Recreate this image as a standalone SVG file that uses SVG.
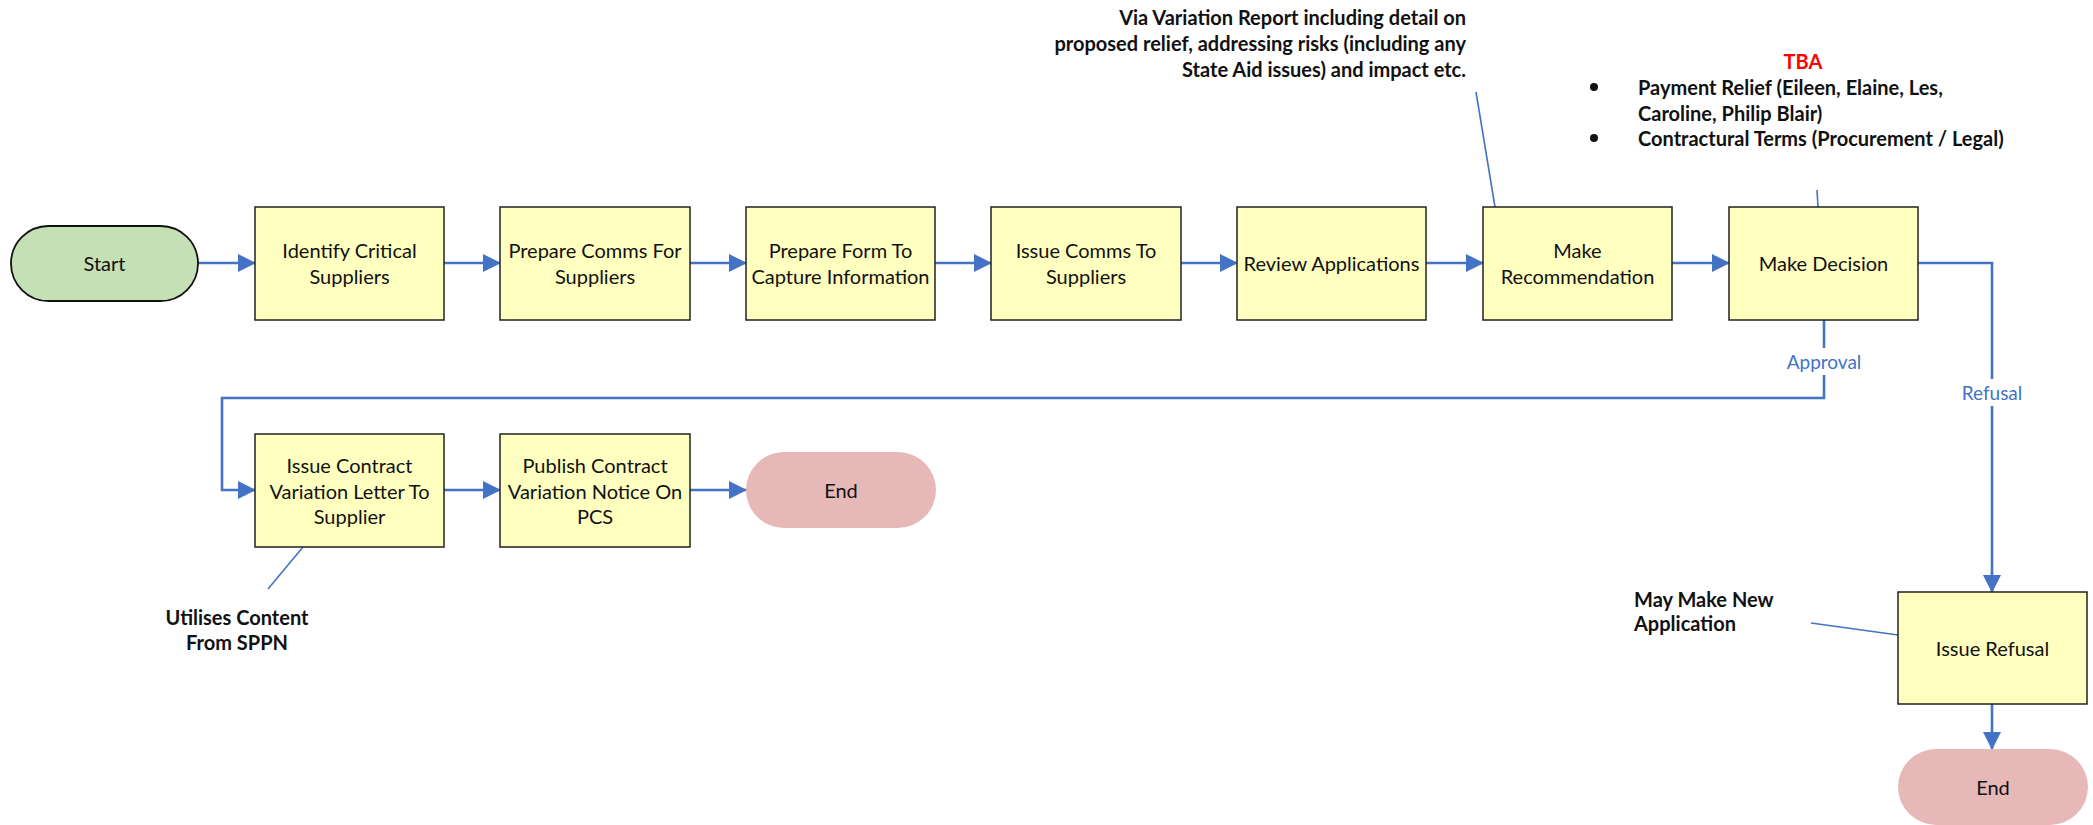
<svg xmlns="http://www.w3.org/2000/svg" width="2093" height="825" viewBox="0 0 2093 825">
<defs>
<style>
.box{fill:#FFFFBF;stroke:#222;stroke-width:1.5}
.start{fill:#C5E0B4;stroke:#111;stroke-width:1.8}
.end{fill:#E6B9B8;stroke:none}
.lbl{font-family:Lato,"Liberation Sans",sans-serif;font-size:20px;fill:#111;text-anchor:middle;dominant-baseline:central}
.conn{fill:none;stroke:#4472C4;stroke-width:2.6}
.callout{fill:none;stroke:#4472C4;stroke-width:1.6}
.clbl{font-family:Lato,"Liberation Sans",sans-serif;font-size:19px;fill:#4472C4;text-anchor:middle;dominant-baseline:central}
.note{font-family:Lato,"Liberation Sans",sans-serif;font-size:20px;font-weight:bold;fill:#111;dominant-baseline:central}
</style>
<marker id="arr" markerUnits="userSpaceOnUse" markerWidth="18" markerHeight="18" viewBox="0 0 18 18" refX="17" refY="9" orient="auto">
<path d="M0,0 L18,9 L0,18 Z" fill="#4472C4"/>
</marker>
</defs>
<rect width="2093" height="825" fill="#fff"/>

<g id="connectors">
<line class="conn" x1="198" y1="263" x2="255" y2="263" marker-end="url(#arr)"/>
<line class="conn" x1="444" y1="263" x2="500" y2="263" marker-end="url(#arr)"/>
<line class="conn" x1="690" y1="263" x2="746" y2="263" marker-end="url(#arr)"/>
<line class="conn" x1="935" y1="263" x2="991" y2="263" marker-end="url(#arr)"/>
<line class="conn" x1="1181" y1="263" x2="1237" y2="263" marker-end="url(#arr)"/>
<line class="conn" x1="1426" y1="263" x2="1483" y2="263" marker-end="url(#arr)"/>
<line class="conn" x1="1672" y1="263" x2="1729" y2="263" marker-end="url(#arr)"/>
<path class="conn" d="M1824,320 V398 H222 V490 H255" marker-end="url(#arr)"/>
<path class="conn" d="M1918,263 H1992 V592" marker-end="url(#arr)"/>
<line class="conn" x1="444" y1="490" x2="500" y2="490" marker-end="url(#arr)"/>
<line class="conn" x1="690" y1="490" x2="746" y2="490" marker-end="url(#arr)"/>
<line class="conn" x1="1992" y1="704" x2="1992" y2="749" marker-end="url(#arr)"/>
<rect x="1784" y="348" width="80" height="27" fill="#fff"/>
<text class="clbl" x="1824" y="361">Approval</text>
<rect x="1956" y="379" width="72" height="27" fill="#fff"/>
<text class="clbl" x="1992" y="392">Refusal</text>
<line class="callout" x1="1476" y1="92" x2="1495" y2="207"/>
<line class="callout" x1="1817" y1="190" x2="1818" y2="207"/>
<line class="callout" x1="303" y1="547" x2="268" y2="589"/>
<line class="callout" x1="1811" y1="623" x2="1898" y2="635"/>
</g>

<g id="start">
<rect class="start" x="11" y="226" width="187" height="75" rx="37.5"/>
<text class="lbl" x="104.5" y="263">Start</text>
</g>
<g id="identify">
<rect class="box" x="255" y="207" width="189" height="113"/>
<text class="lbl" x="349.5" y="250">Identify Critical</text>
<text class="lbl" x="349.5" y="276">Suppliers</text>
</g>
<g id="prepare-comms">
<rect class="box" x="500" y="207" width="190" height="113"/>
<text class="lbl" x="595" y="250">Prepare Comms For</text>
<text class="lbl" x="595" y="276">Suppliers</text>
</g>
<g id="prepare-form">
<rect class="box" x="746" y="207" width="189" height="113"/>
<text class="lbl" x="840.5" y="250">Prepare Form To</text>
<text class="lbl" x="840.5" y="276">Capture Information</text>
</g>
<g id="issue-comms">
<rect class="box" x="991" y="207" width="190" height="113"/>
<text class="lbl" x="1086" y="250">Issue Comms To</text>
<text class="lbl" x="1086" y="276">Suppliers</text>
</g>
<g id="review">
<rect class="box" x="1237" y="207" width="189" height="113"/>
<text class="lbl" x="1331.5" y="263">Review Applications</text>
</g>
<g id="recommend">
<rect class="box" x="1483" y="207" width="189" height="113"/>
<text class="lbl" x="1577.5" y="250">Make</text>
<text class="lbl" x="1577.5" y="276">Recommendation</text>
</g>
<g id="decision">
<rect class="box" x="1729" y="207" width="189" height="113"/>
<text class="lbl" x="1823.5" y="263">Make Decision</text>
</g>
<g id="issue-contract">
<rect class="box" x="255" y="434" width="189" height="113"/>
<text class="lbl" x="349.5" y="465">Issue Contract</text>
<text class="lbl" x="349.5" y="490.5">Variation Letter To</text>
<text class="lbl" x="349.5" y="516">Supplier</text>
</g>
<g id="publish">
<rect class="box" x="500" y="434" width="190" height="113"/>
<text class="lbl" x="595" y="465">Publish Contract</text>
<text class="lbl" x="595" y="490.5">Variation Notice On</text>
<text class="lbl" x="595" y="516">PCS</text>
</g>
<g id="end1">
<rect class="end" x="746" y="452" width="190" height="76" rx="38"/>
<text class="lbl" x="841" y="490">End</text>
</g>
<g id="issue-refusal">
<rect class="box" x="1898" y="592" width="189" height="112"/>
<text class="lbl" x="1992.5" y="648">Issue Refusal</text>
</g>
<g id="end2">
<rect class="end" x="1898" y="749" width="190" height="76" rx="38"/>
<text class="lbl" x="1993" y="787">End</text>
</g>

<g id="note-variation">
<text class="note" x="1466" y="17" text-anchor="end">Via Variation Report including detail on</text>
<text class="note" x="1466" y="43" text-anchor="end">proposed relief, addressing risks (including any</text>
<text class="note" x="1466" y="69" text-anchor="end">State Aid issues) and impact etc.</text>
</g>
<g id="note-tba">
<text class="note" x="1803" y="61" text-anchor="middle" style="fill:#FF0000">TBA</text>
<circle cx="1594" cy="87" r="4" fill="#111"/>
<text class="note" x="1638" y="87">Payment Relief (Eileen, Elaine, Les,</text>
<text class="note" x="1638" y="113">Caroline, Philip Blair)</text>
<circle cx="1594" cy="138" r="4" fill="#111"/>
<text class="note" x="1638" y="138">Contractural Terms (Procurement / Legal)</text>
</g>
<g id="note-sppn">
<text class="note" x="237" y="617" text-anchor="middle">Utilises Content</text>
<text class="note" x="237" y="642" text-anchor="middle">From SPPN</text>
</g>
<g id="note-new-app">
<text class="note" x="1634" y="599">May Make New</text>
<text class="note" x="1634" y="623">Application</text>
</g>
</svg>
